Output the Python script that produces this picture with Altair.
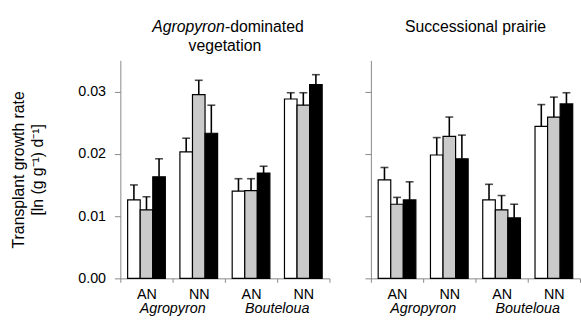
import altair as alt
import pandas as pd

groups = ["Agropyron AN", "Agropyron NN", "Bouteloua AN", "Bouteloua NN"]
treatments = ["open", "shaded", "filled"]
species = ["Agropyron", "Bouteloua"]

# Agropyron-dominated vegetation (per group: open, shaded, filled)
agro_mean = [0.0126, 0.0110, 0.0163, 0.0203, 0.0295, 0.0233,
             0.0140, 0.0141, 0.0169, 0.0288, 0.0278, 0.0311]
agro_err = [0.0024, 0.0021, 0.0029, 0.0022, 0.0023, 0.0045,
            0.0020, 0.0019, 0.0011, 0.0010, 0.0020, 0.0016]
# Successional prairie
succ_mean = [0.0158, 0.0119, 0.0126, 0.0198, 0.0228, 0.0192,
             0.0126, 0.0110, 0.0097, 0.0244, 0.0259, 0.0280]
succ_err = [0.0020, 0.0011, 0.0029, 0.0028, 0.0031, 0.0038,
            0.0025, 0.0023, 0.0022, 0.0035, 0.0032, 0.0018]

y_ticks = [0.0, 0.005, 0.01, 0.015, 0.02, 0.025, 0.03, 0.035]

FONT = "Liberation Sans"
W, H = 212, 221


def make_df(means, errs):
    rows = []
    k = 0
    for g in groups:
        for t in treatments:
            rows.append({"group": g, "treat": t, "mean": means[k],
                         "upper": means[k] + errs[k]})
            k += 1
    return pd.DataFrame(rows)


def panel(means, errs, title_parts, show_y):
    df = make_df(means, errs)
    xscale = alt.Scale(domain=groups, paddingInner=0, paddingOuter=0)
    xaxis = alt.Axis(title=None, labelAngle=0, tickBand="extent", tickSize=4,
                     labelExpr="split(datum.label, ' ')[1]", labelPadding=5,
                     labelFontSize=14.5, grid=False)
    yaxis = alt.Axis(values=y_ticks,
                     title=["Transplant growth rate", "[ln (g g⁻¹) d⁻¹]"] if show_y else None,
                     labelExpr="round(datum.value*1000) % 10 == 0 ? format(datum.value, '.2f') : ''",
                     labels=show_y, grid=False,
                     tickSize={"condition": {"test": "round(datum.value*1000) % 10 == 0", "value": 6}, "value": 5},
                     labelPadding=9, labelFontSize=14.5,
                     titleFontSize=16, titleFontWeight="normal", titlePadding=33,
                     titleLineHeight=19)
    yscale = alt.Scale(domain=[0, 0.035], nice=False)
    offscale = alt.Scale(domain=treatments, paddingInner=0, paddingOuter=0.58)

    base = alt.Chart(df)
    bars = base.mark_bar(stroke="black", strokeWidth=1.2).encode(
        x=alt.X("group:N", scale=xscale, axis=xaxis),
        xOffset=alt.XOffset("treat:N", scale=offscale),
        y=alt.Y("mean:Q", scale=yscale, axis=yaxis),
        fill=alt.Fill("treat:N", scale=alt.Scale(domain=treatments,
                      range=["white", "#cacaca", "black"]), legend=None),
    )
    err = base.mark_rule(color="black", strokeWidth=1.6).encode(
        x=alt.X("group:N", scale=xscale),
        xOffset=alt.XOffset("treat:N", scale=offscale),
        y="mean:Q", y2="upper:Q",
    )
    caps = base.mark_tick(color="black", thickness=1.6, size=8).encode(
        x=alt.X("group:N", scale=xscale),
        xOffset=alt.XOffset("treat:N", scale=offscale),
        y="upper:Q",
    )
    sp_df = pd.DataFrame({"species": species, "group": [s + " NN" for s in species]})
    sp = alt.Chart(sp_df).mark_text(font=FONT, fontSize=14.5, fontStyle="italic",
                                    baseline="alphabetic", color="black").encode(
        x=alt.X("group:N", scale=xscale, bandPosition=0),
        y=alt.value(H + 35),
        text="species:N",
    )
    layers = [bars, err, caps, sp]
    for (txt, style, align, line) in title_parts:
        t = alt.Chart(pd.DataFrame({"t": [txt]})).mark_text(
            font=FONT, fontSize=16, fontStyle=style, align=align,
            baseline="alphabetic", color="black").encode(
            x=alt.value(W / 2), y=alt.value(-29 + 20 * line), text="t:N")
        layers.append(t)
    return alt.layer(*layers).properties(
        width=W, height=H,
        view=alt.ViewBackground(stroke="transparent", strokeOpacity=0))


left = panel(agro_mean, agro_err,
             [("Agropyron", "italic", "right", 0),
              ("-dominated", "normal", "left", 0),
              ("vegetation", "normal", "center", 1)], True)
right = panel(succ_mean, succ_err,
              [("Successional prairie", "normal", "center", 0)], False)

chart = alt.hconcat(left, right, spacing=34).properties(
    padding={"left": 10, "top": 17, "right": 0, "bottom": 0}
).configure_view(stroke="transparent", strokeOpacity=0).configure_axis(
    domainColor="black", domainWidth=1.5, tickColor="black", tickWidth=1.5,
    labelColor="black", titleColor="black", labelFont=FONT, titleFont=FONT,
    grid=False
).configure(background="white")

chart.save("out.html", embed_options={"renderer": "svg", "actions": False})
